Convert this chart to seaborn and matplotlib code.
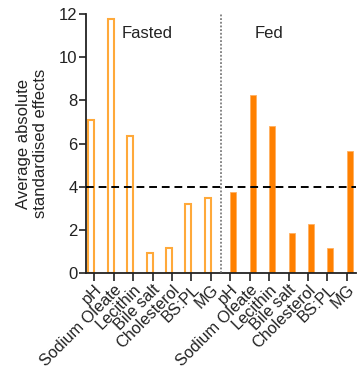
import matplotlib
matplotlib.use("Agg")
import matplotlib.pyplot as plt
import seaborn as sns
import pandas as pd

sns.set_style("ticks")
plt.rcParams["font.family"] = ["Liberation Sans", "DejaVu Sans"]

components = ["pH", "Sodium Oleate", "Lecithin", "Bile salt", "Cholesterol", "BS:PL", "MG"]
fasted_effects = [7.1, 11.75, 6.33, 0.94, 1.17, 3.19, 3.49]
fed_effects = [3.76, 8.23, 6.79, 1.87, 2.29, 1.16, 5.66]
states = ["Fasted", "Fed"]
threshold = 4

keys = [f"{s}|{c}" for s in states for c in components]
df = pd.DataFrame({
    "key": keys,
    "component": components * 2,
    "state": ["Fasted"] * len(components) + ["Fed"] * len(components),
    "effect": fasted_effects + fed_effects,
})

fasted_edge = "#FFA93A"
fed_fill = "#FF8000"

fig = plt.figure(figsize=(3.58, 3.71), dpi=100)
ax = fig.add_axes([0.2402, 0.2642, 0.7556, 0.698])

sns.barplot(data=df, x="key", y="effect", hue="state", order=keys,
            hue_order=states, palette={"Fasted": "white", "Fed": fed_fill},
            saturation=1, dodge=True, width=0.62, legend=False, ax=ax,
            errorbar=None)

# Fasted bars are drawn as open outlines, Fed bars as solid fills
for bar in ax.containers[0]:
    bar.set_facecolor("white")
    bar.set_edgecolor(fasted_edge)
    bar.set_linewidth(1.5)
for bar in ax.containers[1]:
    bar.set_edgecolor("#FFB060")
    bar.set_linewidth(0.6)

ax.axhline(threshold, color="black", lw=1.4, ls=(0, (4, 2.5)), zorder=3)
ax.plot([6.5, 6.5], [0, 12], color="#666666", lw=1.1, ls=(0, (1.2, 1.2)), zorder=3)

ax.text(2.7, 11.1, "Fasted", fontsize=12, ha="center", va="center", color="#222222")
ax.text(9.0, 11.1, "Fed", fontsize=12, ha="center", va="center", color="#222222")

ax.set_xlim(-0.43, 13.5)
ax.set_ylim(0, 12)
ax.set_yticks([0, 2, 4, 6, 8, 10, 12])
ax.set_xticks(range(len(keys)))
ax.set_xticklabels(df["component"], rotation=45, ha="right", rotation_mode="anchor")
ax.set_xlabel("")
ax.set_ylabel("Average absolute\nstandardised effects", fontsize=12, color="#222222",
              labelpad=8)

ax.tick_params(axis="both", labelsize=12, colors="#222222", width=1.2)
ax.tick_params(axis="x", labelsize=11.7)
ax.tick_params(axis="y", length=5, pad=1)
ax.tick_params(axis="x", length=6, pad=0.5)
for side in ["left", "bottom"]:
    ax.spines[side].set_linewidth(1.3)
    ax.spines[side].set_color("#222222")
sns.despine(ax=ax)

fig.savefig("out.png", dpi=100)
